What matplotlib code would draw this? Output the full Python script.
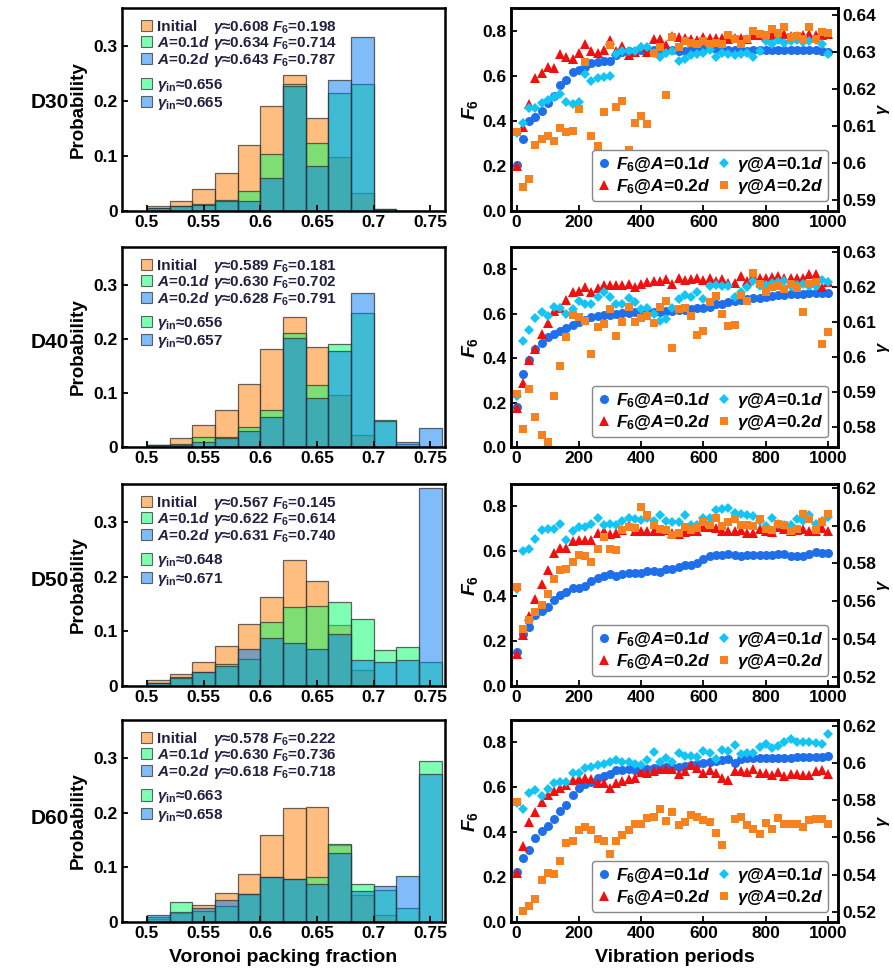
#!/usr/bin/env python3
"""Voronoi packing-fraction histograms and F6 / gamma evolution for D30-D60."""

import matplotlib

matplotlib.use("Agg")
import matplotlib.pyplot as plt
from matplotlib.colors import to_rgba
from matplotlib.patches import Patch
from matplotlib.ticker import FuncFormatter

plt.rcParams.update(
    {
        "font.family": ["Liberation Sans", "DejaVu Sans"],
        "font.weight": "bold",
        "axes.labelweight": "bold",
        "mathtext.fontset": "custom",
        "mathtext.rm": "Liberation Sans:bold",
        "mathtext.it": "Liberation Sans:italic:bold",
        "mathtext.bf": "Liberation Sans:bold",
    }
)

# ---------------------------------------------------------------- histograms
BIN_LEFT = [0.50, 0.52, 0.54, 0.56, 0.58, 0.60, 0.62, 0.64, 0.66, 0.68, 0.70, 0.72, 0.74]

D30_INIT = [0.009, 0.018, 0.041, 0.069, 0.121, 0.191, 0.247, 0.170, 0.098, 0.033, 0.0, 0.0, 0.0]
D30_A01 = [0.006, 0.010, 0.012, 0.020, 0.036, 0.104, 0.231, 0.124, 0.215, 0.232, 0.003, 0.0, 0.0]
D30_A02 = [0.005, 0.009, 0.011, 0.018, 0.019, 0.061, 0.228, 0.082, 0.239, 0.318, 0.003, 0.0, 0.0]

D40_INIT = [0.004, 0.017, 0.040, 0.069, 0.117, 0.182, 0.240, 0.185, 0.096, 0.023, 0.0, 0.0, 0.0]
D40_A01 = [0.004, 0.005, 0.018, 0.018, 0.037, 0.069, 0.210, 0.115, 0.190, 0.247, 0.050, 0.005, 0.0]
D40_A02 = [0.003, 0.004, 0.010, 0.017, 0.029, 0.056, 0.202, 0.091, 0.178, 0.284, 0.048, 0.010, 0.036]

D50_INIT = [0.011, 0.022, 0.044, 0.073, 0.114, 0.163, 0.230, 0.192, 0.112, 0.030, 0.0, 0.0, 0.0]
D50_A01 = [0.006, 0.016, 0.025, 0.040, 0.049, 0.117, 0.144, 0.146, 0.154, 0.123, 0.066, 0.071, 0.044]
D50_A02 = [0.006, 0.014, 0.026, 0.037, 0.068, 0.088, 0.079, 0.068, 0.095, 0.048, 0.044, 0.048, 0.362]

D60_INIT = [0.005, 0.017, 0.032, 0.054, 0.088, 0.159, 0.208, 0.211, 0.141, 0.050, 0.012, 0.0, 0.0]
D60_A01 = [0.009, 0.037, 0.021, 0.030, 0.052, 0.083, 0.078, 0.083, 0.143, 0.070, 0.058, 0.026, 0.294]
D60_A02 = [0.013, 0.018, 0.026, 0.041, 0.052, 0.083, 0.078, 0.069, 0.127, 0.056, 0.066, 0.085, 0.272]

# legend numbers: (gamma, F6) for Initial, A=0.1d, A=0.2d, then gamma_in for 0.1d, 0.2d
D30_STATS = [("0.608", "0.198"), ("0.634", "0.714"), ("0.643", "0.787")]
D40_STATS = [("0.589", "0.181"), ("0.630", "0.702"), ("0.628", "0.791")]
D50_STATS = [("0.567", "0.145"), ("0.622", "0.614"), ("0.631", "0.740")]
D60_STATS = [("0.578", "0.222"), ("0.630", "0.736"), ("0.618", "0.718")]
D30_GIN = ["0.656", "0.665"]
D40_GIN = ["0.656", "0.657"]
D50_GIN = ["0.648", "0.671"]
D60_GIN = ["0.663", "0.658"]

# ---------------------------------------------------------------- time series
PERIODS = list(range(0, 1001, 20))

D30_F6_01 = [0.205, 0.32, 0.40, 0.415, 0.445, 0.478, 0.51, 0.557, 0.58, 0.615,
             0.625, 0.638, 0.655, 0.66, 0.663, 0.665, 0.69, 0.707, 0.71, 0.708,
             0.714, 0.71, 0.712, 0.71, 0.715, 0.714, 0.708, 0.71, 0.712, 0.714,
             0.72, 0.724, 0.72, 0.715, 0.716, 0.714, 0.712, 0.71, 0.712, 0.714,
             0.716, 0.716, 0.716, 0.714, 0.714, 0.714, 0.715, 0.715, 0.714, 0.71,
             0.705]
D30_F6_02 = [0.20, 0.372, 0.475, 0.59, 0.61, 0.638, 0.635, 0.697, 0.682, 0.672,
             0.70, 0.74, 0.71, 0.70, 0.716, 0.76, 0.71, 0.73, 0.69, 0.704,
             0.726, 0.707, 0.763, 0.763, 0.738, 0.778, 0.77, 0.766, 0.763, 0.759,
             0.77, 0.766, 0.766, 0.766, 0.763, 0.766, 0.766, 0.763, 0.78, 0.78,
             0.778, 0.78, 0.78, 0.785, 0.776, 0.776, 0.78, 0.785, 0.78, 0.78,
             0.785]
D30_GAM_01 = [0.6080, 0.6109, 0.6148, 0.6148, 0.6163, 0.6170, 0.6179, 0.6188, 0.6166, 0.6159,
              0.6164, 0.6240, 0.6221, 0.6231, 0.6234, 0.6236, 0.6295, 0.6304, 0.6304, 0.6304,
              0.6314, 0.6313, 0.6299, 0.6288, 0.6299, 0.6304, 0.6277, 0.6281, 0.6293, 0.6295,
              0.6299, 0.6306, 0.6286, 0.6297, 0.6295, 0.6293, 0.6295, 0.6299, 0.6286, 0.6304,
              0.6330, 0.6322, 0.6332, 0.6326, 0.6330, 0.6332, 0.6329, 0.6330, 0.6332, 0.6323,
              0.6295]
D30_GAM_02 = [0.6083, 0.5934, 0.5958, 0.6050, 0.6065, 0.6074, 0.6061, 0.6096, 0.6083, 0.6088,
              0.6146, 0.6273, 0.6074, 0.6045, 0.6139, 0.6320, 0.6152, 0.6168, 0.6036, 0.6109,
              0.6127, 0.6105, 0.6297, 0.6315, 0.6183, 0.6342, 0.6315, 0.6330, 0.6326, 0.6322,
              0.6330, 0.6322, 0.6326, 0.6322, 0.6347, 0.6335, 0.6323, 0.6335, 0.6357, 0.6350,
              0.6346, 0.6364, 0.6353, 0.6368, 0.6341, 0.6344, 0.6335, 0.6368, 0.6335, 0.6355,
              0.6351]

D40_F6_01 = [0.18, 0.33, 0.39, 0.443, 0.47, 0.493, 0.51, 0.52, 0.534, 0.549,
             0.561, 0.571, 0.586, 0.589, 0.594, 0.594, 0.60, 0.601, 0.604, 0.606,
             0.607, 0.609, 0.606, 0.609, 0.612, 0.612, 0.615, 0.617, 0.621, 0.624,
             0.627, 0.632, 0.642, 0.644, 0.654, 0.659, 0.662, 0.665, 0.669, 0.672,
             0.677, 0.68, 0.684, 0.684, 0.687, 0.687, 0.689, 0.692, 0.692, 0.692,
             0.695]
D40_F6_02 = [0.176, 0.286, 0.39, 0.443, 0.507, 0.556, 0.612, 0.624, 0.662, 0.699,
             0.702, 0.722, 0.699, 0.717, 0.729, 0.729, 0.729, 0.729, 0.732, 0.722,
             0.734, 0.744, 0.749, 0.749, 0.756, 0.732, 0.759, 0.75, 0.755, 0.759,
             0.752, 0.759, 0.747, 0.756, 0.737, 0.737, 0.771, 0.749, 0.771, 0.762,
             0.759, 0.764, 0.768, 0.759, 0.759, 0.759, 0.759, 0.777, 0.777, 0.722,
             0.741]
D40_GAM_01 = [0.5889, 0.6047, 0.6078, 0.6111, 0.6130, 0.6118, 0.6142, 0.6139, 0.6123, 0.6137,
              0.6161, 0.6152, 0.6152, 0.6171, 0.6185, 0.6171, 0.6152, 0.6152, 0.6168, 0.6157,
              0.6137, 0.6139, 0.6123, 0.6104, 0.6109, 0.6139, 0.6166, 0.6178, 0.6171, 0.6185,
              0.6166, 0.6202, 0.6206, 0.6204, 0.6204, 0.6171, 0.6187, 0.6200, 0.6219, 0.6204,
              0.6206, 0.6211, 0.6214, 0.6219, 0.6204, 0.6206, 0.6209, 0.6204, 0.6204, 0.6221,
              0.6214]
D40_GAM_02 = [0.5894, 0.5793, 0.5908, 0.5829, 0.5776, 0.5757, 0.5889, 0.5975, 0.6058, 0.6121,
              0.6114, 0.6104, 0.6008, 0.6087, 0.6094, 0.6136, 0.6061, 0.6101, 0.6142, 0.6101,
              0.6112, 0.6118, 0.6097, 0.6142, 0.6161, 0.6026, 0.6136, 0.6140, 0.6116, 0.6064,
              0.6075, 0.6157, 0.6176, 0.6123, 0.6090, 0.6092, 0.6178, 0.6161, 0.6240, 0.6209,
              0.6185, 0.6200, 0.6204, 0.6195, 0.6209, 0.6197, 0.6130, 0.6209, 0.6214, 0.6037,
              0.6072]

D50_F6_01 = [0.15, 0.232, 0.264, 0.316, 0.335, 0.354, 0.384, 0.404, 0.421, 0.438,
             0.438, 0.446, 0.468, 0.483, 0.49, 0.497, 0.49, 0.497, 0.505, 0.502,
             0.505, 0.512, 0.512, 0.509, 0.523, 0.523, 0.531, 0.539, 0.539, 0.549,
             0.567, 0.579, 0.582, 0.583, 0.586, 0.582, 0.579, 0.582, 0.582, 0.582,
             0.582, 0.583, 0.586, 0.586, 0.579, 0.579, 0.579, 0.586, 0.596, 0.593,
             0.593]
D50_F6_02 = [0.143, 0.227, 0.31, 0.387, 0.453, 0.517, 0.593, 0.615, 0.615, 0.645,
             0.652, 0.652, 0.652, 0.682, 0.689, 0.677, 0.682, 0.697, 0.719, 0.689,
             0.689, 0.692, 0.689, 0.692, 0.697, 0.682, 0.677, 0.685, 0.689, 0.689,
             0.708, 0.708, 0.704, 0.689, 0.692, 0.689, 0.694, 0.682, 0.682, 0.70,
             0.689, 0.685, 0.708, 0.70, 0.689, 0.694, 0.70, 0.689, 0.692, 0.704,
             0.689]
D50_GAM_01 = [0.5663, 0.5864, 0.5874, 0.5927, 0.5975, 0.5980, 0.5983, 0.6010, 0.5925, 0.5969,
              0.5992, 0.5992, 0.6010, 0.6040, 0.6005, 0.6010, 0.6005, 0.6022, 0.6040, 0.6036,
              0.6031, 0.6040, 0.6027, 0.6054, 0.6022, 0.6019, 0.6019, 0.6057, 0.6001, 0.6001,
              0.6042, 0.6040, 0.6080, 0.6089, 0.6093, 0.6066, 0.6059, 0.6057, 0.6050, 0.6022,
              0.5998, 0.6040, 0.6010, 0.6005, 0.6001, 0.6036, 0.6022, 0.6054, 0.6010, 0.6022,
              0.6045]
D50_GAM_02 = [0.5675, 0.5452, 0.5499, 0.5543, 0.5582, 0.5640, 0.5719, 0.5767, 0.5772, 0.5807,
              0.5846, 0.5839, 0.5807, 0.5874, 0.5939, 0.5874, 0.5869, 0.5978, 0.5992, 0.5987,
              0.6098, 0.6057, 0.6001, 0.5980, 0.5975, 0.5948, 0.5961, 0.5992, 0.5975, 0.5987,
              0.6019, 0.6001, 0.6042, 0.5998, 0.6019, 0.6036, 0.6001, 0.6005, 0.5998, 0.6036,
              0.5983, 0.5975, 0.6010, 0.6005, 0.5969, 0.5983, 0.6063, 0.6036, 0.5975, 0.6019,
              0.6063]

D60_F6_01 = [0.224, 0.284, 0.321, 0.374, 0.404, 0.426, 0.46, 0.493, 0.523, 0.565,
             0.595, 0.613, 0.625, 0.643, 0.65, 0.658, 0.676, 0.676, 0.68, 0.677,
             0.68, 0.683, 0.688, 0.691, 0.691, 0.691, 0.691, 0.695, 0.70, 0.706,
             0.71, 0.714, 0.717, 0.722, 0.725, 0.71, 0.725, 0.729, 0.729, 0.729,
             0.732, 0.732, 0.732, 0.732, 0.732, 0.735, 0.735, 0.737, 0.737, 0.737,
             0.74]
D60_F6_02 = [0.217, 0.339, 0.445, 0.49, 0.535, 0.565, 0.583, 0.598, 0.61, 0.631,
             0.635, 0.643, 0.638, 0.62, 0.62, 0.598, 0.62, 0.628, 0.635, 0.643,
             0.67, 0.665, 0.673, 0.68, 0.68, 0.68, 0.661, 0.673, 0.70, 0.685,
             0.665, 0.676, 0.665, 0.643, 0.631, 0.673, 0.673, 0.67, 0.68, 0.665,
             0.665, 0.653, 0.668, 0.65, 0.658, 0.661, 0.655, 0.655, 0.673, 0.676,
             0.658]
D60_GAM_01 = [0.5786, 0.5754, 0.5839, 0.5855, 0.5821, 0.5861, 0.5893, 0.5896, 0.5896, 0.5946,
              0.5946, 0.5971, 0.5977, 0.5986, 0.5995, 0.6004, 0.6013, 0.6007, 0.6007, 0.5995,
              0.5986, 0.6013, 0.6057, 0.6007, 0.6025, 0.6007, 0.6052, 0.6039, 0.6036, 0.6030,
              0.6061, 0.6052, 0.6021, 0.6071, 0.6066, 0.6096, 0.6048, 0.6052, 0.6052, 0.6084,
              0.6102, 0.6079, 0.6089, 0.6111, 0.6129, 0.6111, 0.6114, 0.6114, 0.6105, 0.6102,
              0.6155]
D60_GAM_02 = [0.5789, 0.5204, 0.5232, 0.5271, 0.5370, 0.5411, 0.5402, 0.5473, 0.5570, 0.5579,
              0.5638, 0.5655, 0.5638, 0.5589, 0.5580, 0.5509, 0.5579, 0.5614, 0.5641, 0.5673,
              0.5673, 0.5704, 0.5709, 0.5754, 0.5686, 0.5736, 0.5668, 0.5682, 0.5718, 0.5709,
              0.5696, 0.5682, 0.5625, 0.5561, 0.5454, 0.5700, 0.5709, 0.5664, 0.5646, 0.5620,
              0.5679, 0.5643, 0.5705, 0.5673, 0.5673, 0.5673, 0.5655, 0.5691, 0.5700, 0.5700,
              0.5673]

# right-axis (gamma) limits and ticks per sample
D30_GAM_LIM, D30_GAM_TICKS = (0.587, 0.642), [0.59, 0.60, 0.61, 0.62, 0.63, 0.64]
D40_GAM_LIM, D40_GAM_TICKS = (0.5742, 0.6315), [0.58, 0.59, 0.60, 0.61, 0.62, 0.63]
D50_GAM_LIM, D50_GAM_TICKS = (0.5152, 0.622), [0.52, 0.54, 0.56, 0.58, 0.60, 0.62]
D60_GAM_LIM, D60_GAM_TICKS = (0.5146, 0.623), [0.52, 0.54, 0.56, 0.58, 0.60, 0.62]

# ---------------------------------------------------------------- styling
C_INIT, C_A01, C_A02 = "#FF7D00", "#00FF69", "#007BF5"
HIST_ALPHA = 0.5
EDGE = (0.2, 0.2, 0.2, 0.75)
LEG_TEXT = "#202040"

C_F6_01, C_F6_02 = "#1F6FEB", "#F01010"
C_GAM_01, C_GAM_02 = "#12C5F5", "#F5821F"

# rows: (top px, bottom px) in the 893x977 canvas
ROWS = [(8, 211), (247, 447), (484, 686), (720, 922)]
LABEL_Y = [103, 343, 580, 818]
W, H = 893.0, 977.0


def gfmt(v, _pos=None):
    return f"{v:g}"


def style_ticks(ax, **kw):
    ax.tick_params(direction="in", length=4, width=1.3, labelsize=12.5, pad=3, **kw)
    for sp in ax.spines.values():
        sp.set_linewidth(1.8)


def draw_hist(ax, init, a01, a02, stats, gin, show_xlabel):
    for vals, col in ((init, C_INIT), (a01, C_A01), (a02, C_A02)):
        ax.bar(BIN_LEFT, vals, width=0.02, align="edge",
               color=to_rgba(col, HIST_ALPHA), edgecolor=EDGE, linewidth=0.9)
    ax.set_xlim(0.478, 0.763)
    ax.set_ylim(0, 0.37)
    ax.set_xticks([0.5, 0.55, 0.6, 0.65, 0.7, 0.75])
    ax.set_yticks([0, 0.1, 0.2, 0.3])
    ax.xaxis.set_major_formatter(FuncFormatter(gfmt))
    ax.yaxis.set_major_formatter(FuncFormatter(gfmt))
    style_ticks(ax)
    ax.set_ylabel("Probability", fontsize=13.5, labelpad=5)
    if show_xlabel:
        ax.set_xlabel("Voronoi packing fraction", fontsize=14, labelpad=6)

    def sq(col):
        return Patch(facecolor=to_rgba(col, HIST_ALPHA), edgecolor=EDGE, linewidth=0.8)

    common = dict(frameon=False, fontsize=11, handlelength=0.75, handleheight=0.75,
                  handletextpad=0.3, labelspacing=0.1, borderpad=0.0, labelcolor=LEG_TEXT)
    leg1 = ax.legend([sq(C_INIT), sq(C_A01), sq(C_A02)],
                     ["Initial", r"$A$=0.1$d$", r"$A$=0.2$d$"],
                     loc="upper left", bbox_to_anchor=(0.035, 0.98), **common)
    ax.add_artist(leg1)
    ax.legend([sq(C_A01), sq(C_A02)],
              [r"$\gamma_{\rm in}$≈" + gin[0], r"$\gamma_{\rm in}$≈" + gin[1]],
              loc="upper left", bbox_to_anchor=(0.035, 0.70), **common)
    return leg1, [r"$\gamma$≈%s $F_6$=%s" % s for s in stats]


def draw_series(ax, f01, f02, g01, g02, glim, gticks, show_xlabel):
    h1, = ax.plot(PERIODS, f01, ls="none", marker="o", ms=6.5, mew=0, color=C_F6_01)
    h2, = ax.plot(PERIODS, f02, ls="none", marker="^", ms=7.0, mew=0, color=C_F6_02)
    ax.set_xlim(-18, 1032)
    ax.set_ylim(0, 0.9)
    ax.set_xticks([0, 200, 400, 600, 800, 1000])
    ax.set_yticks([0.0, 0.2, 0.4, 0.6, 0.8])
    ax.yaxis.set_major_formatter(FuncFormatter(lambda v, p: f"{v:.1f}"))
    style_ticks(ax, right=False, top=False)
    ax.set_ylabel(r"$F_6$", fontsize=14, labelpad=2)
    if show_xlabel:
        ax.set_xlabel("Vibration periods", fontsize=14, labelpad=6)

    ax2 = ax.twinx()
    h3, = ax2.plot(PERIODS, g01, ls="none", marker="D", ms=5.4, mew=0, color=C_GAM_01)
    h4, = ax2.plot(PERIODS, g02, ls="none", marker="s", ms=5.2, mew=0, color=C_GAM_02)
    ax2.set_ylim(*glim)
    ax2.set_yticks(gticks)
    ax2.yaxis.set_major_formatter(FuncFormatter(gfmt))
    style_ticks(ax2, left=False)
    ax2.set_ylabel(r"$\gamma$", fontsize=12, labelpad=0)

    ax2.legend([h1, h2, h3, h4],
               [r"$F_6$@$A$=0.1$d$", r"$F_6$@$A$=0.2$d$",
                r"$\gamma$@$A$=0.1$d$", r"$\gamma$@$A$=0.2$d$"],
               ncol=2, loc="lower right", bbox_to_anchor=(0.97, 0.05), fontsize=12.5,
               handlelength=0.8, handletextpad=0.3, columnspacing=0.4, labelspacing=0.15,
               borderpad=0.3, borderaxespad=0.0, fancybox=True, framealpha=1,
               edgecolor="#888888")


def main():
    fig = plt.figure(figsize=(W / 100, H / 100), dpi=100)

    hist_sets = [
        ("D30", D30_INIT, D30_A01, D30_A02, D30_STATS, D30_GIN),
        ("D40", D40_INIT, D40_A01, D40_A02, D40_STATS, D40_GIN),
        ("D50", D50_INIT, D50_A01, D50_A02, D50_STATS, D50_GIN),
        ("D60", D60_INIT, D60_A01, D60_A02, D60_STATS, D60_GIN),
    ]
    series_sets = [
        (D30_F6_01, D30_F6_02, D30_GAM_01, D30_GAM_02, D30_GAM_LIM, D30_GAM_TICKS),
        (D40_F6_01, D40_F6_02, D40_GAM_01, D40_GAM_02, D40_GAM_LIM, D40_GAM_TICKS),
        (D50_F6_01, D50_F6_02, D50_GAM_01, D50_GAM_02, D50_GAM_LIM, D50_GAM_TICKS),
        (D60_F6_01, D60_F6_02, D60_GAM_01, D60_GAM_02, D60_GAM_LIM, D60_GAM_TICKS),
    ]

    pending = []
    for i, ((top, bot), ly) in enumerate(zip(ROWS, LABEL_Y)):
        last = i == len(ROWS) - 1
        rect_h = (bot - top) / H
        axl = fig.add_axes([122 / W, 1 - bot / H, 323 / W, rect_h])
        axr = fig.add_axes([511 / W, 1 - bot / H, 327 / W, rect_h])

        name, init, a01, a02, stats, gin = hist_sets[i]
        leg1, extra = draw_hist(axl, init, a01, a02, stats, gin, last)
        pending.append((axl, leg1, extra))
        draw_series(axr, *series_sets[i], last)

        fig.text(50 / W, 1 - ly / H, name, ha="center", va="center", fontsize=15)

    # second text column of the histogram legends, on the same baselines
    fig.canvas.draw()
    for ax, leg, extra in pending:
        for t, s in zip(leg.get_texts(), extra):
            xd, yd = t.get_transform().transform(t.get_position())
            ya = ax.transAxes.inverted().transform((xd, yd))[1]
            ax.text(0.282, ya, s, transform=ax.transAxes, va="baseline", ha="left",
                    fontsize=11, color=LEG_TEXT)

    fig.savefig("out.png", dpi=100)
    plt.close(fig)


if __name__ == "__main__":
    main()
